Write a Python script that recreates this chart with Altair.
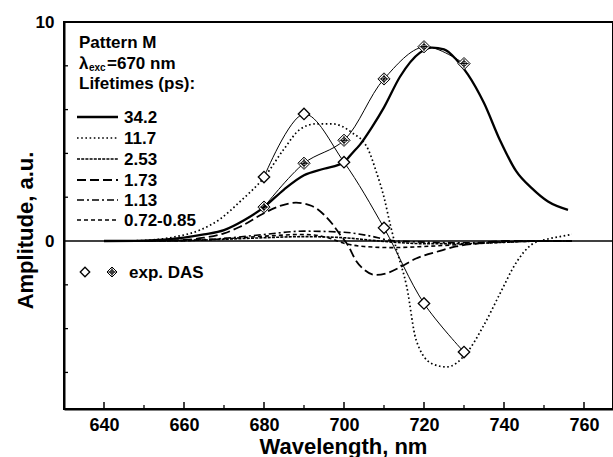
import altair as alt
import pandas as pd

# ---------------- data ----------------
wl_342 = [640, 650, 655, 660, 665, 670, 675, 680, 685, 690, 695, 700, 702, 704, 707, 710, 714, 719, 722, 725, 728, 731, 735, 739, 743, 747, 751, 756]
amp_342 = [0, 0.02, 0.06, 0.15, 0.3, 0.5, 0.95, 1.55, 2.35, 3.0, 3.3, 3.6, 4.0, 4.4, 5.2, 6.1, 7.5, 8.6, 8.83, 8.75, 8.3, 7.6, 6.3, 4.6, 3.2, 2.4, 1.8, 1.42]

wl_117 = [645, 652, 658, 664, 669, 674, 680, 685, 689, 693, 697, 702, 706, 708, 710, 711.5, 713, 715.7, 718, 722, 725.7, 730.7, 734.8, 739, 743, 747, 750, 754, 757]
amp_117 = [0, 0.05, 0.2, 0.5, 1.0, 1.8, 2.9, 4.2, 5.1, 5.35, 5.35, 4.95, 4.2, 3.2, 2.0, 0.8, -0.3, -2.1, -4.5, -5.6, -5.75, -5.1, -3.9, -2.4, -1.0, -0.15, 0.05, 0.2, 0.3]

wl_253 = [640, 660, 670, 680, 690, 700, 706, 712, 720, 730, 740, 750, 757]
amp_253 = [0, 0.02, 0.08, 0.15, 0.2, 0.15, 0.05, -0.05, -0.12, -0.12, -0.06, 0, 0]

wl_173 = [650, 660, 665, 670, 674, 680, 684, 688, 692, 695, 697, 699, 701, 703, 705, 708, 711, 714, 718, 724, 728, 734, 740, 757]
amp_173 = [0, 0.05, 0.15, 0.35, 0.65, 1.27, 1.6, 1.75, 1.6, 1.2, 0.8, 0.3, -0.2, -0.9, -1.3, -1.55, -1.45, -1.2, -0.8, -0.45, -0.25, -0.1, 0, 0]

wl_113 = [640, 660, 670, 680, 690, 700, 706, 712, 720, 730, 740, 750, 757]
amp_113 = [0, 0.03, 0.12, 0.3, 0.45, 0.4, 0.25, 0.02, -0.05, -0.08, -0.04, 0, 0]

wl_072 = [640, 660, 670, 680, 690, 696, 700, 705, 712, 720, 730, 740, 750, 757]
amp_072 = [0, 0.02, 0.1, 0.22, 0.3, 0.15, -0.1, -0.25, -0.3, -0.25, -0.15, -0.05, 0, 0]

exp_wl = [680, 690, 700, 710, 720, 730]
exp_open = [2.92, 5.8, 3.6, 0.6, -2.85, -5.07]
exp_cross = [1.55, 3.55, 4.6, 7.4, 8.87, 8.1]

x_major = [640, 660, 680, 700, 720, 740, 760]
x_minor = [650, 670, 690, 710, 730, 750]
y_minor = [-6, -4, -2, 2, 4, 6, 8]

legend_labels = ["34.2", "11.7", "2.53", "1.73", "1.13", "0.72-0.85"]

# ---------------- styling ----------------
FONT = "Liberation Sans"
WEIGHT = "bold"
W, H = 549, 387
xscale = alt.Scale(domain=[630, 767.25], nice=False, zero=False)
yscale = alt.Scale(domain=[-7.67, 10], nice=False, zero=False)

x_axis = alt.Axis(values=x_major, ticks=False, grid=False, domainColor="black", domainWidth=2,
                  labelFont=FONT, labelFontSize=18, labelFontWeight=WEIGHT, labelColor="black", labelPadding=7,
                  title="Wavelength, nm", titleFont=FONT, titleFontSize=22, titleFontWeight=WEIGHT,
                  titleColor="black", titleX=279, titleY=44, titleBaseline="alphabetic", titleAlign="center")
y_axis = alt.Axis(values=[0, 10], ticks=False, grid=False, domainColor="black", domainWidth=2,
                  labelFont=FONT, labelFontSize=17, labelFontWeight=WEIGHT, labelColor="black", labelPadding=10,
                  title="Amplitude, a.u.", titleFont=FONT, titleFontSize=22, titleFontWeight=WEIGHT,
                  titleColor="black", titleX=-32, titleY=208, titleBaseline="alphabetic", titleAlign="center",
                  titleAngle=270)

def X(field="wl"):
    return alt.X(f"{field}:Q", scale=xscale, axis=x_axis)

def Y(field="amp"):
    return alt.Y(f"{field}:Q", scale=yscale, axis=y_axis)

def curve(wl, amp, dash, width, interp="monotone"):
    df = pd.DataFrame({"wl": wl, "amp": amp})
    kw = dict(color="black", strokeWidth=width, interpolate=interp, clip=True)
    if dash:
        kw["strokeDash"] = dash
    return alt.Chart(df).mark_line(**kw).encode(x=X(), y=Y())

dashes = [None, [1.6, 2.6], [3, 1.2], [9, 4], [7, 3, 2, 3], [4, 3]]
widths = [2.3, 1.7, 1.6, 1.8, 1.6, 1.6]
series = [(wl_342, amp_342), (wl_117, amp_117), (wl_253, amp_253), (wl_173, amp_173), (wl_113, amp_113), (wl_072, amp_072)]

dummy = alt.Data(values=[{"a": 0}])

layers = []
# zero line
layers.append(alt.Chart(dummy).mark_rule(color="black", strokeWidth=1.4).encode(y=alt.datum(0, scale=yscale, axis=y_axis)))

# ticks (inward)
layers.append(alt.Chart(pd.DataFrame({"wl": x_major})).mark_rule(color="black", strokeWidth=1.5)
              .encode(x=X(), y=alt.value(H), y2=alt.value(H - 7)))
layers.append(alt.Chart(pd.DataFrame({"wl": x_minor})).mark_rule(color="black", strokeWidth=1.3)
              .encode(x=X(), y=alt.value(H), y2=alt.value(H - 4)))
layers.append(alt.Chart(pd.DataFrame({"amp": y_minor})).mark_rule(color="black", strokeWidth=1.3)
              .encode(y=Y(), x=alt.value(0), x2=alt.value(4)))

# model curves
for (wl, amp), d, w in zip(series[::-1], dashes[::-1], widths[::-1]):
    layers.append(curve(wl, amp, d, w))

# experimental DAS: connecting lines and markers
exp_df = pd.DataFrame({"wl": exp_wl, "open": exp_open, "cross": exp_cross})
layers.append(alt.Chart(exp_df).mark_line(color="black", strokeWidth=1, interpolate="catmull-rom")
              .encode(x=X(), y=Y("open")))
layers.append(alt.Chart(exp_df).mark_line(color="black", strokeWidth=1, interpolate="catmull-rom")
              .encode(x=X(), y=Y("cross")))

CROSS = "M0,-1L1,0L0,1L-1,0Z M0,-0.75L0,0.75 M-0.75,0L0.75,0 M-0.4,0A0.4,0.4 0 1,0 0.4,0A0.4,0.4 0 1,0 -0.4,0"
layers.append(alt.Chart(exp_df).mark_point(shape="diamond", filled=True, fill="white", stroke="black",
                                           strokeWidth=1.3, size=130, opacity=1)
              .encode(x=X(), y=Y("open")))
layers.append(alt.Chart(exp_df).mark_point(shape=CROSS, filled=True, fill="white", stroke="black",
                                           strokeWidth=1.0, size=150, opacity=1)
              .encode(x=X(), y=Y("cross")))

# ---------------- legend / annotations (pixel positions inside plot) ----------------
def txt(s, x, y, size=17, align="left"):
    return alt.Chart(dummy).mark_text(text=s, font=FONT, fontSize=size, fontWeight=WEIGHT, color="black",
                                      align=align, baseline="alphabetic").encode(x=alt.value(x), y=alt.value(y))

layers.append(txt("Pattern M", 15, 26))
layers.append(txt("\u03bb", 15, 47))
layers.append(txt("exc", 25, 49, size=10))
layers.append(txt("=670 nm", 43, 47))
layers.append(txt("Lifetimes (ps):", 15, 67))

row_y = [95, 116, 137, 158, 178, 198]
for lab, ry, d, w in zip(legend_labels, row_y, dashes, widths):
    kw = dict(color="black", strokeWidth=w)
    if d:
        kw["strokeDash"] = d
    layers.append(alt.Chart(dummy).mark_rule(**kw)
                  .encode(x=alt.value(13), x2=alt.value(54), y=alt.value(ry)))
    layers.append(txt(lab, 60, ry + 6))

layers.append(alt.Chart(dummy).mark_point(shape="diamond", filled=True, fill="white", stroke="black",
                                          strokeWidth=1.3, size=90, opacity=1)
              .encode(x=alt.value(21), y=alt.value(250)))
layers.append(alt.Chart(dummy).mark_point(shape=CROSS, filled=True, fill="white", stroke="black",
                                          strokeWidth=1.0, size=100, opacity=1)
              .encode(x=alt.value(48), y=alt.value(250)))
layers.append(txt("exp. DAS", 65, 256))

chart = alt.layer(*layers).properties(
    width=W, height=H,
    autosize=alt.AutoSizeParams(type="none"),
    padding={"left": 64, "top": 22, "right": 0, "bottom": 48},
    background="white",
).configure_view(stroke="black", strokeWidth=2)

chart.save("out.html", embed_options={"renderer": "svg", "actions": False})
